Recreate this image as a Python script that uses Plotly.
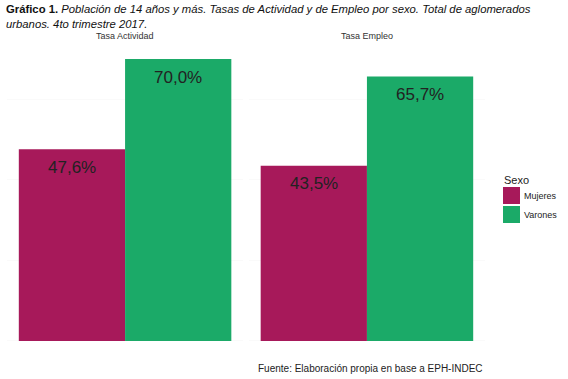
import plotly.graph_objects as go
from plotly.subplots import make_subplots

facets = ["Tasa Actividad", "Tasa Empleo"]
sexos = ["Mujeres", "Varones"]
mujeres = [47.6, 43.5]
varones = [70.0, 65.7]
colors = {"Mujeres": "#A7195A", "Varones": "#1BAA68"}
values = {"Mujeres": mujeres, "Varones": varones}

W, H = 568, 379
ML, MR, MT, MB = 7, 83, 45, 24
PW, PH = W - ML - MR, H - MT - MB

def px(x):
    return (x - ML) / PW

def py(y):
    return (H - MB - y) / PH

fig = make_subplots(rows=1, cols=2, shared_yaxes=True, horizontal_spacing=0.012)

for i, fac in enumerate(facets):
    for s in sexos:
        v = values[s][i]
        fig.add_trace(go.Bar(
            x=[fac], y=[v], name=s, marker_color=colors[s], marker_line_width=0,
            showlegend=False,
        ), row=1, col=i + 1)

def fmt(v):
    return f"{v:.1f}".replace(".", ",") + "%"

ann = []
shapes = []
for i, fac in enumerate(facets):
    xref = "x" if i == 0 else "x2"
    for j, s in enumerate(sexos):
        v = values[s][i]
        ann.append(dict(x=fac, y=v, xref=xref, yref="y", text=fmt(v), showarrow=False,
                        xshift=(-53 if j == 0 else 53), yshift=-18,
                        font=dict(size=17, color="#222222", family="Liberation Sans")))
    ann.append(dict(x=fac, y=py(36), xref=xref, yref="paper", yanchor="middle",
                    text=fac, showarrow=False,
                    font=dict(size=9, color="#333333", family="Liberation Sans")))

# caption
ann.append(dict(x=px(485), y=py(368), xref="paper", yref="paper", xanchor="right", yanchor="middle",
                text="Fuente: Elaboración propia en base a EPH-INDEC", showarrow=False,
                font=dict(size=10, color="#222222", family="Liberation Sans")))

# title
ann.append(dict(x=px(4), y=py(1), xref="paper", yref="paper", xanchor="left", yanchor="top",
                align="left",
                text="<b>Gráfico 1.</b> <i>Población de 14 años y más. Tasas de Actividad y de Empleo por sexo. Total de aglomerados</i><br><i>urbanos. 4to trimestre 2017.</i>",
                showarrow=False,
                font=dict(size=11.3, color="#111111", family="Liberation Sans")))

# legend (custom)
ann.append(dict(x=px(502), y=py(180), xref="paper", yref="paper", xanchor="left", yanchor="middle",
                text="Sexo", showarrow=False, font=dict(size=11, color="#222222", family="Liberation Sans")))
for k, s in enumerate(sexos):
    top = 187 + k * 19
    shapes.append(dict(type="rect", xref="paper", yref="paper",
                       x0=px(503), x1=px(520), y0=py(top + 17), y1=py(top),
                       fillcolor=colors[s], line_width=0))
    ann.append(dict(x=px(522), y=py(top + 8.5), xref="paper", yref="paper", xanchor="left",
                    yanchor="middle", text=s, showarrow=False,
                    font=dict(size=9, color="#222222", family="Liberation Sans")))

fig.update_layout(
    width=W, height=H,
    margin=dict(l=ML, r=MR, t=MT, b=MB),
    paper_bgcolor="white", plot_bgcolor="white",
    barmode="group", bargap=0.1, bargroupgap=0,
    font=dict(family="Liberation Sans", color="#222222"),
    showlegend=False,
    annotations=ann, shapes=shapes,
)

for ax in ["xaxis", "xaxis2"]:
    fig.layout[ax].update(showticklabels=False, showgrid=False, zeroline=False, ticks="",
                          range=[-0.5, 0.5])
fig.update_yaxes(range=[-3.5, 73.5], showticklabels=False, showgrid=True, gridcolor="#fafafa",
                 zeroline=False, dtick=20, ticks="")

fig.write_html("out.html", config={"displayModeBar": False},
               post_script="document.body.style.margin='0';document.body.style.overflow='hidden';")
